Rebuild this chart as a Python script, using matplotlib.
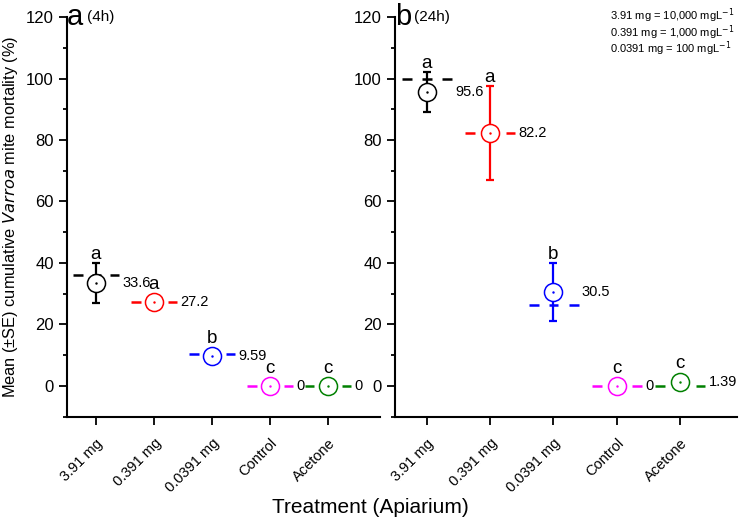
import numpy as np
import matplotlib
matplotlib.use("Agg")
import matplotlib.pyplot as plt
from matplotlib.ticker import MultipleLocator

plt.rcParams['font.family'] = ['Liberation Sans', 'DejaVu Sans']

treatments = ['3.91 mg', '0.391 mg', '0.0391 mg', 'Control', 'Acetone']
colors = ['black', 'red', 'blue', 'magenta', 'green']

mean_4h = [33.6, 27.2, 9.59, 0, 0]
se_4h = [6.5, 0, 0, 0, 0]
median_4h = [36, 27.2, 10.4, 0, 0]
letters_4h = ['a', 'a', 'b', 'c', 'c']
labels_4h = ['33.6', '27.2', '9.59', '0', '0']

mean_24h = [95.6, 82.2, 30.5, 0, 1.39]
se_24h = [6.5, 15.3, 9.5, 0, 1.39]
median_24h = [100, 82.2, 26.4, 0, 0]
letters_24h = ['a', 'a', 'b', 'c', 'c']
labels_24h = ['95.6', '82.2', '30.5', '0', '1.39']

fig = plt.figure(figsize=(7.4, 5.22), dpi=100)
ax1 = fig.add_axes([0.0905, 0.2017, 0.423, 0.7657])
ax2 = fig.add_axes([0.5338, 0.2017, 0.462, 0.7657])


def panel(ax, means, ses, medians, letters, labels, tag, sub, subx):
    x = np.arange(len(treatments))
    for i in x:
        c = colors[i]
        # median drawn as dashes
        for a, b in [(-0.39, -0.23), (-0.07, 0.08), (0.25, 0.40)]:
            ax.plot([i + a, i + b], [medians[i], medians[i]], color=c, lw=1.8,
                    solid_capstyle='butt', zorder=2)
        if ses[i] > 0:
            ax.errorbar(i, means[i], yerr=ses[i], fmt='none', ecolor=c,
                        elinewidth=1.6, capsize=3, capthick=1.6, zorder=3)
        ax.plot(i, means[i], 'o', ms=13, mfc='white', mec=c, mew=1.1, zorder=4)
        ax.plot(i, means[i], '.', ms=1.5, color=c, zorder=5)
        top = means[i] + ses[i]
        ax.annotate(letters[i], (i, max(top, means[i] + 3.0)), xytext=(0, 0),
                    textcoords='offset points', ha='center', va='bottom',
                    fontsize=13.5, zorder=6)
        ax.text(i + 0.45, means[i], labels[i], ha='left', va='center', fontsize=10.5)
    ax.set_xlim(-0.5, 4.9)
    ax.set_ylim(-10, 120)
    ax.set_yticks(np.arange(0, 121, 20))
    ax.yaxis.set_minor_locator(MultipleLocator(10))
    ax.set_xticks(x)
    ax.set_xticklabels(treatments, rotation=45, ha='right', va='top',
                       rotation_mode='anchor', fontsize=10.5)
    ax.spines['top'].set_visible(False)
    ax.spines['right'].set_visible(False)
    for s in ['left', 'bottom']:
        ax.spines[s].set_linewidth(1.5)
    ax.tick_params(which='major', direction='out', length=6, width=1.3, labelsize=12)
    ax.tick_params(axis='x', labelsize=10.5, pad=8)
    ax.tick_params(which='minor', direction='out', length=3, width=1.3)
    ax.text(0.0, 1.0, tag, transform=ax.transAxes, fontsize=21, ha='left', va='center')
    ax.text(subx, 1.0, sub, transform=ax.transAxes, fontsize=11, ha='left', va='center')


panel(ax1, mean_4h, se_4h, median_4h, letters_4h, labels_4h, 'a', '(4h)', 0.063)
panel(ax2, mean_24h, se_24h, median_24h, letters_24h, labels_24h, 'b', '(24h)', 0.055)

ax1.set_ylabel('Mean (\u00b1SE) cumulative $\\it{Varroa}$ mite mortality (%)', fontsize=11.8)
ax1.yaxis.set_label_coords(-0.15, 0.5)
fig.text(0.5, 0.027, 'Treatment (Apiarium)', ha='center', va='center', fontsize=15)

legend_lines = ['3.91 mg = 10,000 mgL$^{-1}$', '0.391 mg = 1,000 mgL$^{-1}$',
                '0.0391 mg = 100 mgL$^{-1}$']
for k, t in enumerate(legend_lines):
    fig.text(0.824, 0.970 - k * 0.032, t, ha='left', va='center', fontsize=8)

fig.savefig('out.png', dpi=100)
